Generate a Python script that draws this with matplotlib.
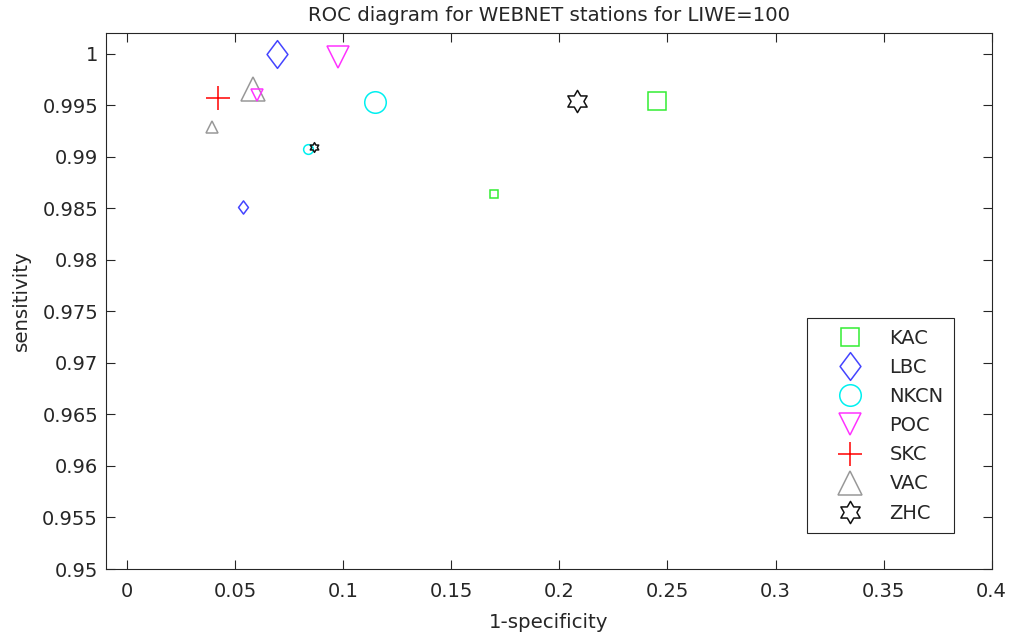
import numpy as np
import matplotlib
matplotlib.use("Agg")
import matplotlib.pyplot as plt
from matplotlib.path import Path
from matplotlib.ticker import FuncFormatter

stations = ['KAC', 'LBC', 'NKCN', 'POC', 'SKC', 'VAC', 'ZHC']
colors = ['#33ee33', '#4444ff', '#00f0f0', '#ff33ff', '#ff0000', '#999999', '#111111']

# large markers (labelled)
big_x = [0.2452, 0.0691, 0.1147, 0.0975, 0.0420, 0.0581, 0.2082]
big_y = [0.9954, 1.0000, 0.9953, 0.9997, 0.99567, 0.99656, 0.9954]
# small markers (no SKC)
small_st = ['KAC', 'LBC', 'NKCN', 'POC', 'VAC', 'ZHC']
small_x = [0.1697, 0.0534, 0.0838, 0.0602, 0.0391, 0.0865]
small_y = [0.98639, 0.98515, 0.99075, 0.9960, 0.99292, 0.99092]

xticks = [0, 0.05, 0.1, 0.15, 0.2, 0.25, 0.3, 0.35, 0.4]
yticks = [0.95, 0.955, 0.96, 0.965, 0.97, 0.975, 0.98, 0.985, 0.99, 0.995, 1.0]

# custom marker shapes
ang_o = np.deg2rad(90 + 60 * np.arange(6))
ang_i = np.deg2rad(120 + 60 * np.arange(6))
hv = []
for a, b in zip(ang_o, ang_i):
    hv.append((np.cos(a), np.sin(a)))
    hv.append((np.cos(b) / np.sqrt(3), np.sin(b) / np.sqrt(3)))
hv.append(hv[0])
hexagram = Path(hv, [Path.MOVETO] + [Path.LINETO] * 11 + [Path.CLOSEPOLY])
diamond = Path([(0, 1), (0.75, 0), (0, -1), (-0.75, 0), (0, 1)],
               [Path.MOVETO, Path.LINETO, Path.LINETO, Path.LINETO, Path.CLOSEPOLY])

markers = {'KAC': 's', 'LBC': diamond, 'NKCN': 'o', 'POC': 'v', 'SKC': '+',
           'VAC': '^', 'ZHC': hexagram}
big_ms = {'KAC': 12.5, 'LBC': 20, 'NKCN': 15.5, 'POC': 16, 'SKC': 17,
          'VAC': 17, 'ZHC': 16}
small_ms = {'KAC': 5.5, 'LBC': 9.5, 'NKCN': 7, 'POC': 9, 'VAC': 9, 'ZHC': 7}
col = dict(zip(stations, colors))

plt.rcParams['font.family'] = 'DejaVu Sans'
fig = plt.figure(figsize=(10.13, 6.37), dpi=100)
ax = fig.add_axes([0.1043, 0.1067, 0.8746, 0.8415])

for st, x, y in zip(stations, big_x, big_y):
    ax.plot([x], [y], linestyle='none', marker=markers[st], ms=big_ms[st],
            mfc='none', mec=col[st], mew=1.1, label=st)
for st, x, y in zip(small_st, small_x, small_y):
    ax.plot([x], [y], linestyle='none', marker=markers[st], ms=small_ms[st],
            mfc='none', mec=col[st], mew=1.1)

ax.set_xlim(-0.01, 0.4)
ax.set_ylim(0.95, 1.002)
ax.set_xticks(xticks)
ax.set_yticks(yticks)
fmt = FuncFormatter(lambda v, p: f"{v:g}")
ax.xaxis.set_major_formatter(fmt)
ax.yaxis.set_major_formatter(fmt)
ax.tick_params(direction='in', length=6.5, width=0.8, colors='#262626',
               labelsize=14, top=True, right=True)
ax.tick_params(axis='x', pad=9)
ax.tick_params(axis='y', pad=5.5)
for s in ax.spines.values():
    s.set_color('#262626')
    s.set_linewidth(0.8)

ax.set_title('ROC diagram for WEBNET stations for LIWE=100', fontsize=14.2,
             color='#262626', pad=8.5)
ax.set_xlabel('1-specificity', fontsize=14.2, color='#262626', labelpad=9)
ax.set_ylabel('sensitivity', fontsize=14.2, color='#262626', labelpad=8)

leg = ax.legend(loc='upper left', bbox_to_anchor=(0.7915, 0.468),
                borderaxespad=0, fontsize=14, frameon=True, fancybox=False,
                framealpha=1, edgecolor='#262626', handlelength=3.3,
                handletextpad=0.4, labelspacing=0.52, borderpad=0.55,
                numpoints=1)
leg.get_frame().set_linewidth(0.8)
for t in leg.get_texts():
    t.set_color('#262626')

fig.savefig('out.png', dpi=100)
